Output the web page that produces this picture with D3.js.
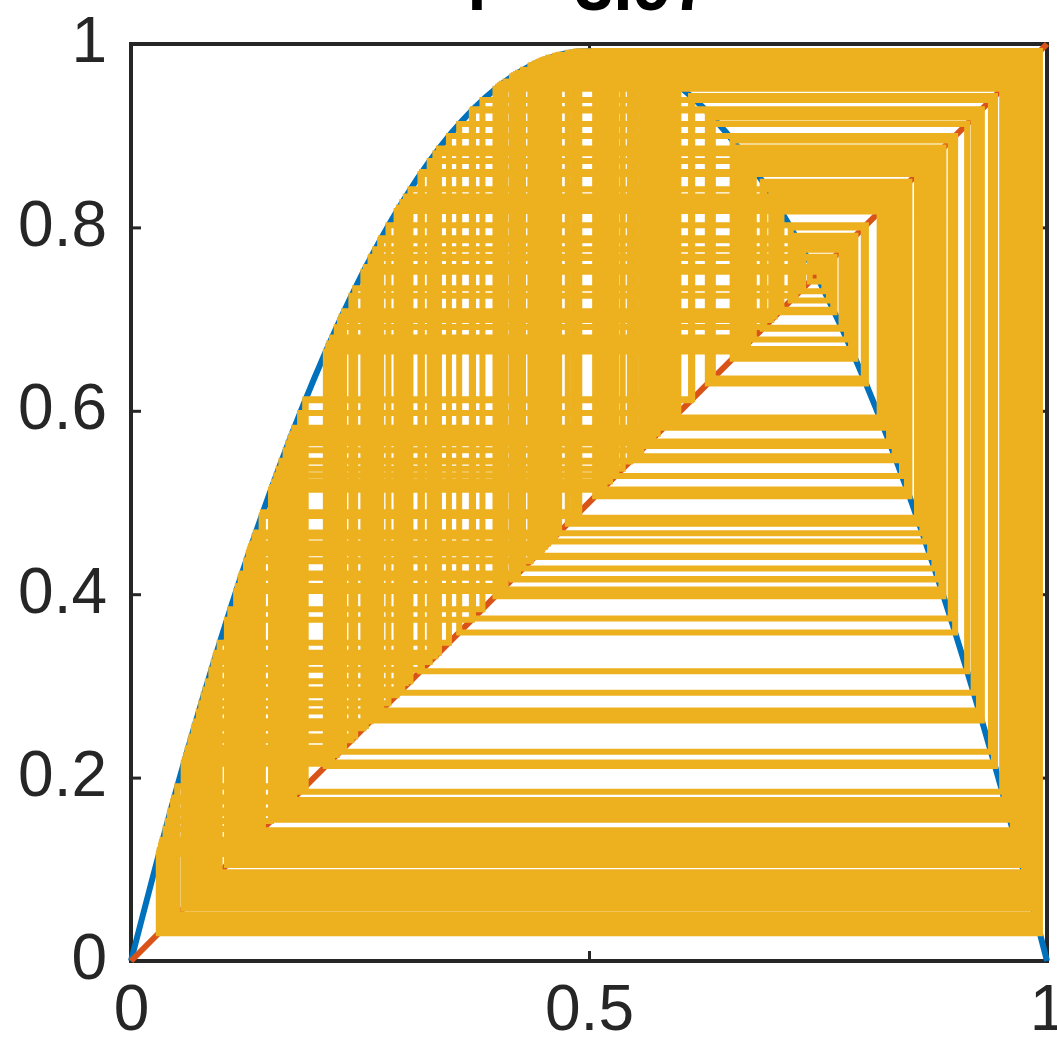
<!DOCTYPE html>
<html>
<head>
<meta charset="utf-8">
<script src="https://cdn.jsdelivr.net/npm/d3@7"></script>
<style>
  html, body { margin: 0; padding: 0; background: #fff; }
  svg { display: block; }
</style>
</head>
<body>
<svg id="chart" width="1057" height="1039"></svg>
<script>
const titleText = "r = 3.97";

// logistic map curve
const curveX = [0, 0.05, 0.1, 0.15, 0.2, 0.25, 0.3, 0.35, 0.4, 0.45, 0.5, 0.55, 0.6, 0.65, 0.7, 0.75, 0.8, 0.85, 0.9, 0.95, 1];
const curveY = [0, 0.1886, 0.3573, 0.5062, 0.6352, 0.7444, 0.8337, 0.9032, 0.9528, 0.9826, 0.9925, 0.9826, 0.9528, 0.9032, 0.8337, 0.7444, 0.6352, 0.5062, 0.3573, 0.1886, 0];

// diagonal y = x
const diagX = [0, 1];
const diagY = [0, 1];

// orbit values of the cobweb
const orbit = [0.3000, 0.8337, 0.5504, 0.9824, 0.0686, 0.2537, 0.7517, 0.7410, 0.7619, 0.7202,
  0.8000, 0.6352, 0.9199, 0.2925, 0.8216, 0.5819, 0.9659, 0.1308, 0.4514, 0.9831,
  0.0660, 0.2447, 0.7337, 0.7757, 0.6907, 0.8481, 0.5114, 0.9920, 0.0315, 0.1211,
  0.4225, 0.9687, 0.1204, 0.4204, 0.9673, 0.1256, 0.4360, 0.9762, 0.0922, 0.3323,
  0.8809, 0.4165, 0.9648, 0.1348, 0.4630, 0.9871, 0.0506, 0.1907, 0.6127, 0.9421,
  0.2166, 0.6736, 0.8729, 0.4405, 0.9784, 0.0839, 0.3051, 0.8417, 0.5290, 0.9892,
  0.0424, 0.1612, 0.5368, 0.98713, 0.05044, 0.19015, 0.6114, 0.9432, 0.2127, 0.6648,
  0.8847, 0.4050, 0.9567, 0.1645, 0.5456, 0.9842, 0.0617, 0.2298, 0.7027, 0.8294,
  0.5617, 0.9774, 0.0877, 0.3176, 0.8604, 0.4768, 0.9904, 0.0377, 0.1440, 0.4894,
  0.9921, 0.0311, 0.1196, 0.4180, 0.9658, 0.1311, 0.4522, 0.9834, 0.0648, 0.2406,
  0.7254, 0.7908, 0.6568, 0.8949, 0.3734, 0.9289, 0.2622, 0.7680, 0.7074, 0.8217,
  0.5816, 0.9661, 0.1300, 0.4490, 0.9822, 0.0694, 0.2564, 0.7569, 0.7305, 0.7816,
  0.6777, 0.8671, 0.4575, 0.9853, 0.0575, 0.2152, 0.6705, 0.8771, 0.4280, 0.9719,
  0.1084, 0.3837, 0.9388, 0.2281, 0.6990, 0.8353, 0.5462, 0.9840, 0.0625, 0.2326,
  0.7086, 0.8197, 0.5867, 0.9627, 0.1426, 0.4854, 0.9917, 0.0327, 0.1259, 0.4369,
  0.9767, 0.0903, 0.3261, 0.8724, 0.4419, 0.9791, 0.0812, 0.2962, 0.8276, 0.5664,
  0.9750, 0.0968, 0.3471, 0.8997, 0.3583, 0.9128, 0.3160, 0.8581, 0.4834, 0.9914,
  0.0338, 0.1297, 0.4481, 0.9818, 0.0709, 0.2615, 0.7667, 0.7101, 0.8173, 0.5928,
  0.9583, 0.1586, 0.5298, 0.9890, 0.0432, 0.1641, 0.5446, 0.9846, 0.0602, 0.2246,
  0.6914, 0.8471, 0.5142, 0.9917, 0.0335, 0.1285, 0.4446, 0.9803, 0.0767, 0.2811,
  0.8023, 0.6297, 0.9257, 0.2731, 0.7881, 0.6630, 0.8870, 0.3979, 0.9511, 0.1846,
  0.5976, 0.9547, 0.1717, 0.5646, 0.9759, 0.0934, 0.3362, 0.8860, 0.4010, 0.9536,
  0.1757, 0.5750, 0.9702, 0.1148, 0.4034, 0.9555, 0.1688, 0.5570, 0.9796, 0.0793,
  0.2899, 0.8180, 0.5910, 0.9596, 0.1539, 0.5170, 0.9914, 0.0345, 0.1322, 0.4554,
  0.9850, 0.0587, 0.2194, 0.6799, 0.8640, 0.4665, 0.9880, 0.0471, 0.1782, 0.5814,
  0.9662, 0.1290, 0.4461, 0.9810, 0.0740, 0.2720, 0.7861, 0.6675, 0.8811, 0.4159,
  0.9644, 0.1363, 0.4674, 0.9883, 0.0459, 0.1739, 0.5703, 0.9729, 0.1047, 0.3721,
  0.9276, 0.2666, 0.7762, 0.6896, 0.8498, 0.5067, 0.9923, 0.0303, 0.1166, 0.4089,
  0.9590, 0.1561, 0.5230, 0.9898, 0.0401, 0.1528, 0.5139];

const xTicks = [0, 0.5, 1];
const xTickLabels = ["0", "0.5", "1"];
const yTicks = [0, 0.2, 0.4, 0.6, 0.8, 1];
const yTickLabels = ["0", "0.2", "0.4", "0.6", "0.8", "1"];

const svg = d3.select("#chart");
const font = "'Liberation Sans', Arial, Helvetica, sans-serif";
const axisColor = "#262626";

const x = d3.scaleLinear().domain([0, 1]).range([131, 1047]);
const y = d3.scaleLinear().domain([0, 1]).range([961, 44]);

// box first, data lines sit on top of it
svg.append("rect")
  .attr("x", x(0)).attr("y", y(1))
  .attr("width", x(1) - x(0)).attr("height", y(0) - y(1))
  .attr("fill", "none").attr("stroke", axisColor).attr("stroke-width", 4);

const styleAxis = g => {
  g.select(".domain").remove();
  g.selectAll(".tick line").attr("stroke", axisColor).attr("stroke-width", 3);
  g.selectAll(".tick text").attr("fill", axisColor).style("font-family", font).style("font-size", "64px");
};

svg.append("g").attr("transform", `translate(0,${y(0)})`)
  .call(d3.axisBottom(x).tickValues(xTicks).tickFormat((d, i) => xTickLabels[i]).tickSize(-10).tickPadding(24))
  .call(styleAxis);
svg.append("g").attr("transform", `translate(0,${y(1)})`)
  .call(d3.axisTop(x).tickValues(xTicks).tickFormat("").tickSize(-10))
  .call(styleAxis);
svg.append("g").attr("transform", `translate(${x(0)},0)`)
  .call(d3.axisLeft(y).tickValues(yTicks).tickFormat((d, i) => yTickLabels[i]).tickSize(-10).tickPadding(24))
  .call(styleAxis)
  .selectAll(".tick text").attr("dy", "0.28em");
svg.append("g").attr("transform", `translate(${x(1)},0)`)
  .call(d3.axisRight(y).tickValues(yTicks).tickFormat("").tickSize(-10))
  .call(styleAxis);

// logistic curve
const curveLine = d3.line().x(d => x(d[0])).y(d => y(d[1])).curve(d3.curveMonotoneX);
svg.append("path")
  .attr("d", curveLine(curveX.map((v, i) => [v, curveY[i]])))
  .attr("fill", "none").attr("stroke", "#0072BD").attr("stroke-width", 6);

// diagonal
const straight = d3.line().x(d => x(d[0])).y(d => y(d[1]));
svg.append("path")
  .attr("d", straight(diagX.map((v, i) => [v, diagY[i]])))
  .attr("fill", "none").attr("stroke", "#D95319").attr("stroke-width", 6);

// cobweb
const web = [[orbit[0], orbit[0]]];
for (let i = 0; i < orbit.length - 1; i++) {
  web.push([orbit[i], orbit[i + 1]]);
  web.push([orbit[i + 1], orbit[i + 1]]);
}
svg.append("path")
  .attr("d", straight(web))
  .attr("fill", "none").attr("stroke", "#EDB120").attr("stroke-width", 6)
  .attr("stroke-linejoin", "miter");

// title, mostly above the top edge
svg.append("text")
  .attr("x", 589).attr("y", 10)
  .attr("text-anchor", "middle")
  .style("font-family", font).style("font-size", "70px").style("font-weight", "bold")
  .attr("fill", "#000")
  .text(titleText);
</script>
</body>
</html>
